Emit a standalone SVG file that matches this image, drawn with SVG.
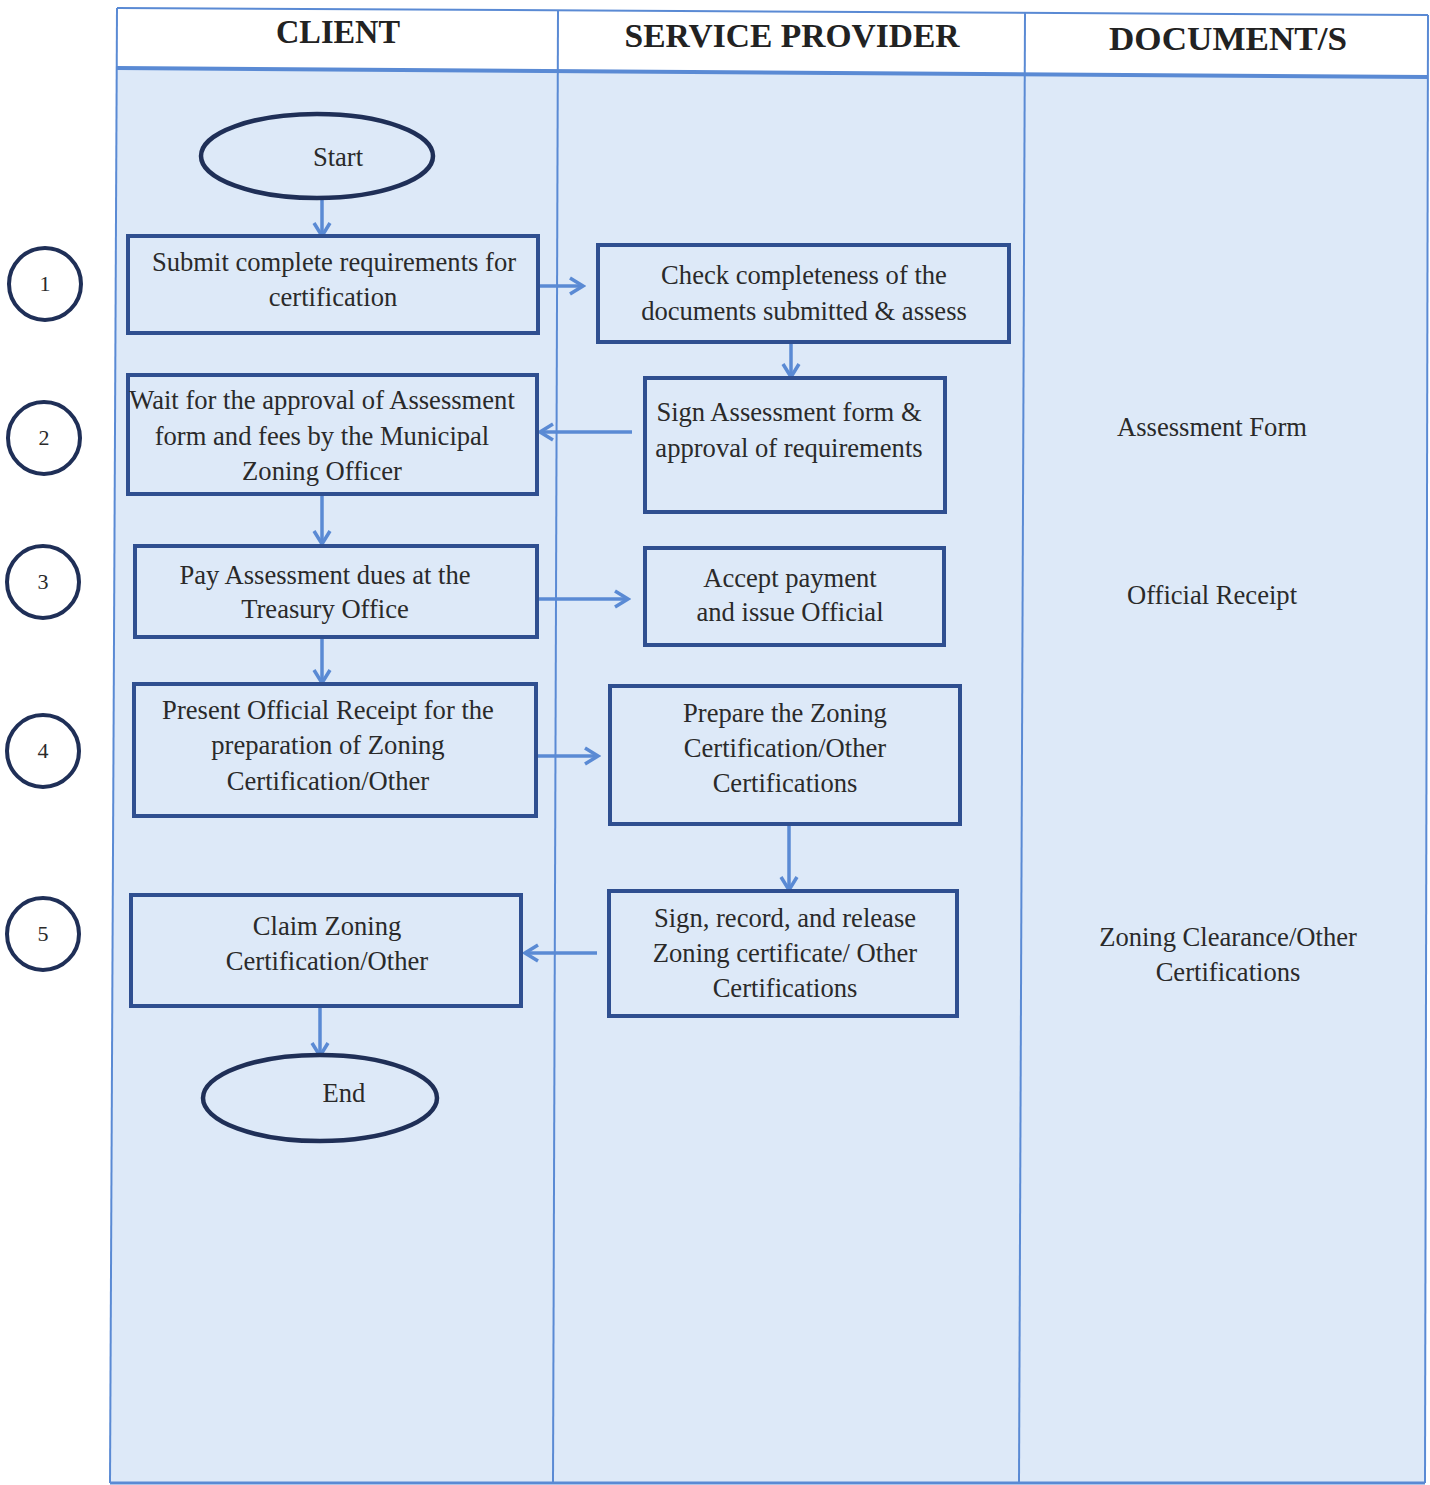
<svg xmlns="http://www.w3.org/2000/svg" width="1430" height="1485" viewBox="0 0 1430 1485">
<style>
.lane{stroke:#5a8ad4;stroke-width:2;fill:none}
.hdr{font-family:"Liberation Serif",serif;font-weight:bold;font-size:34px;fill:#222;text-anchor:middle}
.box{fill:#dde9f8;stroke:#2f4f90;stroke-width:4}
.oval{fill:#dde9f8;stroke:#1f2f57;stroke-width:4.5}
.num{fill:#fff;stroke:#1f2f57;stroke-width:4}
.t{font-family:"Liberation Serif",serif;font-size:26.6px;fill:#2a2a2a;text-anchor:middle}
.nt{font-family:"Liberation Serif",serif;font-size:22px;fill:#2a2a2a;text-anchor:middle}
.conn{stroke:#5a8ad4;stroke-width:3.5;fill:none;marker-end:url(#ah)}
</style>
<defs>
<marker id="ah" markerUnits="userSpaceOnUse" markerWidth="20" markerHeight="20" viewBox="0 0 20 20" refX="17" refY="10" orient="auto">
<path d="M4,2 L17,10 L4,18" fill="none" stroke="#5a8ad4" stroke-width="3.5"/>
</marker>
</defs>
<rect width="1430" height="1485" fill="#ffffff"/>
<g id="lanes">
<polygon points="117,8 1428,15 1428,77 117,68" fill="#ffffff"/>
<polygon points="117,68 1428,77 1425,1483 110,1483" fill="#dde9f8"/>
<line class="lane" x1="117" y1="8" x2="1428" y2="15"/>
<line class="lane" x1="117" y1="68" x2="1428" y2="77" style="stroke-width:4"/>
<line class="lane" x1="117" y1="8" x2="110" y2="1483"/>
<line class="lane" x1="558" y1="10" x2="553" y2="1483"/>
<line class="lane" x1="1025" y1="13" x2="1019" y2="1483"/>
<line class="lane" x1="1428" y1="15" x2="1425" y2="1483"/>
<line class="lane" x1="110" y1="1483" x2="1425" y2="1483" style="stroke-width:3"/>
<text class="hdr" x="338" y="43" textLength="124" lengthAdjust="spacingAndGlyphs">CLIENT</text>
<text class="hdr" x="792" y="47" textLength="335" lengthAdjust="spacingAndGlyphs">SERVICE PROVIDER</text>
<text class="hdr" x="1228" y="50" textLength="238" lengthAdjust="spacingAndGlyphs">DOCUMENT/S</text>
</g>
<g id="steps">
<circle class="num" cx="45" cy="284" r="36"/><text class="nt" x="45" y="291">1</text>
<circle class="num" cx="44" cy="438" r="36"/><text class="nt" x="44" y="445">2</text>
<circle class="num" cx="43" cy="582" r="36"/><text class="nt" x="43" y="589">3</text>
<circle class="num" cx="43" cy="751" r="36"/><text class="nt" x="43" y="758">4</text>
<circle class="num" cx="43" cy="934" r="36"/><text class="nt" x="43" y="941">5</text>
</g>
<g id="connectors">
<line class="conn" x1="322" y1="199" x2="322" y2="236"/>
<line class="conn" x1="538" y1="286" x2="583" y2="286"/>
<line class="conn" x1="791" y1="342" x2="791" y2="377"/>
<line class="conn" x1="632" y1="432" x2="540" y2="432"/>
<line class="conn" x1="322" y1="494" x2="322" y2="544"/>
<line class="conn" x1="537" y1="599" x2="628" y2="599"/>
<line class="conn" x1="322" y1="637" x2="322" y2="683"/>
<line class="conn" x1="536" y1="756" x2="598" y2="756"/>
<line class="conn" x1="789" y1="824" x2="789" y2="890"/>
<line class="conn" x1="597" y1="953" x2="525" y2="953"/>
<line class="conn" x1="320" y1="1006" x2="320" y2="1056"/>
</g>
<g id="start"><ellipse class="oval" cx="317" cy="156" rx="116" ry="42"/><text class="t" x="338" y="166">Start</text></g>
<g id="c1"><rect class="box" x="128" y="236" width="410" height="97"/><text class="t" x="334" y="271">Submit complete requirements for</text><text class="t" x="333" y="306">certification</text></g>
<g id="s1"><rect class="box" x="598" y="245" width="411" height="97"/><text class="t" x="804" y="284">Check completeness of the</text><text class="t" x="804" y="320">documents submitted &amp; assess</text></g>
<g id="c2"><rect class="box" x="128" y="375" width="409" height="119"/><text class="t" x="322" y="409">Wait for the approval of Assessment</text><text class="t" x="322" y="445">form and fees by the Municipal</text><text class="t" x="322" y="480">Zoning Officer</text></g>
<g id="s2"><rect class="box" x="645" y="378" width="300" height="134"/><text class="t" x="789" y="421">Sign Assessment form &amp;</text><text class="t" x="789" y="457">approval of requirements</text></g>
<g id="c3"><rect class="box" x="135" y="546" width="402" height="91"/><text class="t" x="325" y="584">Pay Assessment dues at the</text><text class="t" x="325" y="618">Treasury Office</text></g>
<g id="s3"><rect class="box" x="645" y="548" width="299" height="97"/><text class="t" x="790" y="587">Accept payment</text><text class="t" x="790" y="621">and issue Official</text></g>
<g id="c4"><rect class="box" x="134" y="684" width="402" height="132"/><text class="t" x="328" y="719">Present Official Receipt for the</text><text class="t" x="328" y="754">preparation of Zoning</text><text class="t" x="328" y="790">Certification/Other</text></g>
<g id="s4"><rect class="box" x="610" y="686" width="350" height="138"/><text class="t" x="785" y="722">Prepare the Zoning</text><text class="t" x="785" y="757">Certification/Other</text><text class="t" x="785" y="792">Certifications</text></g>
<g id="c5"><rect class="box" x="131" y="895" width="390" height="111"/><text class="t" x="327" y="935">Claim Zoning</text><text class="t" x="327" y="970">Certification/Other</text></g>
<g id="s5"><rect class="box" x="609" y="891" width="348" height="125"/><text class="t" x="785" y="927">Sign, record, and release</text><text class="t" x="785" y="962">Zoning certificate/ Other</text><text class="t" x="785" y="997">Certifications</text></g>
<g id="end"><ellipse class="oval" cx="320" cy="1098" rx="117" ry="43"/><text class="t" x="344" y="1102">End</text></g>
<g id="docs">
<text class="t" x="1212" y="436">Assessment Form</text>
<text class="t" x="1212" y="604">Official Receipt</text>
<text class="t" x="1228" y="946">Zoning Clearance/Other</text>
<text class="t" x="1228" y="981">Certifications</text>
</g>
</svg>
